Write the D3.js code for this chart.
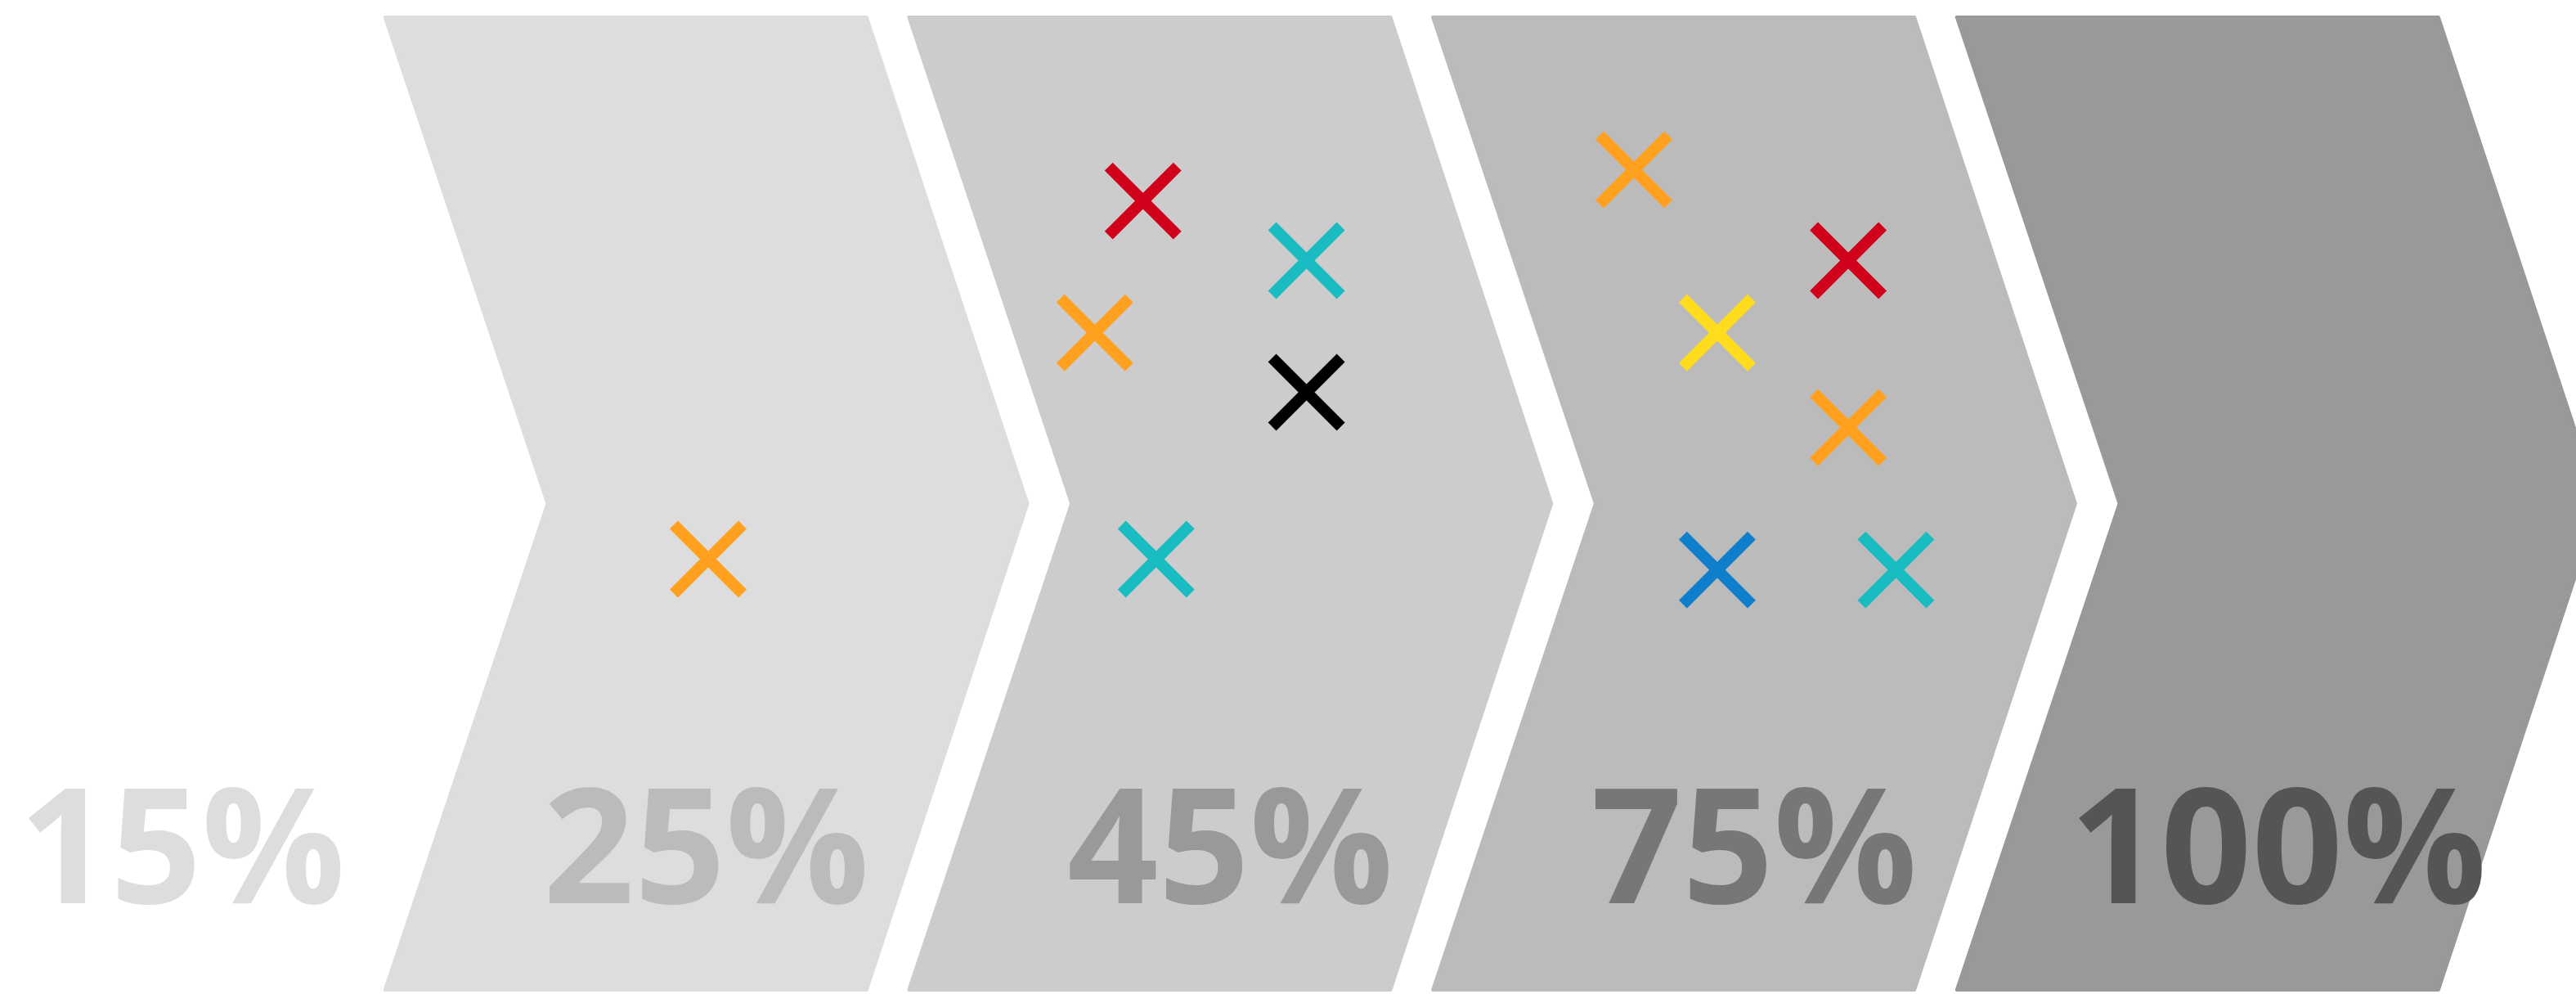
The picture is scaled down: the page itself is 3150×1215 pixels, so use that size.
<!DOCTYPE html>
<html>
<head>
<meta charset="utf-8">
<script src="https://cdn.jsdelivr.net/npm/d3@7"></script>
<style>
	html, body { margin: 0; padding: 0; background: #ffffff; }
	svg { display: block; }
</style>
</head>
<body>
<div id="chart"></div>
<script>
// stages, left to right
var stageLabels = [ '15%', '25%', '45%', '75%', '100%' ];
var stageFills = [ '#ffffff', '#dddddd', '#cccccc', '#bbbbbb', '#999999' ];
var labelColors = [ '#dddddd', '#bbbbbb', '#999999', '#777777', '#555555' ];

// crosses: x in stage units (stage i spans i..i+1), y in percent of shape height
var crossX = [ 1.620, 2.450, 2.762, 2.358, 2.762, 2.475, 3.387, 3.796, 3.546, 3.796, 3.546, 3.887 ];
var crossY = [ 55.7, 19.0, 25.1, 32.5, 38.6, 55.7, 15.8, 25.1, 32.5, 42.2, 56.8, 56.8 ];
var crossColors = [ 'orange', 'red', 'teal', 'orange', 'black', 'teal', 'orange', 'red', 'yellow', 'orange', 'blue', 'teal' ];

var palette = {
	orange: '#ffa11f',
	red: '#d0011b',
	teal: '#19bcc0',
	yellow: '#ffdc1e',
	blue: '#0f7fcc',
	black: '#000000'
};

var width = 3150,
	height = 1215;

var shapeTop = 19,
	shapeBottom = 1212,
	shapeMid = ( shapeTop + shapeBottom ) / 2,
	bodyW = 591,
	notch = ( shapeBottom - shapeTop ) / 6;

var x = d3.scaleLinear()
	.domain( [ 0, 5 ] )
	.range( [ -172, -172 + 5 * 640.7 ] );

var y = d3.scaleLinear()
	.domain( [ 0, 100 ] )
	.range( [ shapeTop, shapeBottom ] );

var svg = d3.select( '#chart' ).append( 'svg' )
	.attr( 'width', width )
	.attr( 'height', height );

function chevron( x0 ) {
	var inset = 2;
	return [
		[ x0 + inset, shapeTop + inset ],
		[ x0 + bodyW, shapeTop + inset ],
		[ x0 + bodyW + notch - inset, shapeMid ],
		[ x0 + bodyW, shapeBottom - inset ],
		[ x0 + inset, shapeBottom - inset ],
		[ x0 + notch + inset, shapeMid ]
	];
}

var stage = svg.selectAll( 'g.stage' )
	.data( stageLabels )
	.enter()
	.append( 'g' )
	.classed( 'stage', true );

stage.append( 'path' )
	.attr( 'd', function ( d, i ) {
		return d3.line()( chevron( x( i ) ) ) + 'Z';
	} )
	.style( 'fill', function ( d, i ) { return stageFills[i]; } )
	.style( 'stroke', function ( d, i ) { return stageFills[i]; } )
	.style( 'stroke-width', 4 )
	.style( 'stroke-linejoin', 'round' );

stage.append( 'text' )
	.text( function ( d ) { return d; } )
	.attr( 'x', function ( d, i ) { return x( i ) + ( bodyW + notch ) / 2; } )
	.attr( 'y', 1104 )
	.attr( 'text-anchor', 'middle' )
	.style( 'font-family', '"Open Sans", sans-serif' )
	.style( 'font-weight', 700 )
	.style( 'font-size', '195px' )
	.style( 'fill', function ( d, i ) { return labelColors[i]; } );

// crosses
var arm = 42;
var cross = svg.selectAll( 'g.cross' )
	.data( crossX )
	.enter()
	.append( 'g' )
	.classed( 'cross', true )
	.attr( 'transform', function ( d, i ) {
		return 'translate(' + x( d ) + ',' + y( crossY[i] ) + ')';
	} );

cross.append( 'path' )
	.attr( 'd', 'M' + ( -arm ) + ',' + ( -arm ) + 'L' + arm + ',' + arm +
		'M' + ( -arm ) + ',' + arm + 'L' + arm + ',' + ( -arm ) )
	.style( 'fill', 'none' )
	.style( 'stroke', function ( d, i ) { return palette[crossColors[i]]; } )
	.style( 'stroke-width', 14 )
	.style( 'stroke-linecap', 'butt' );
</script>
</body>
</html>
